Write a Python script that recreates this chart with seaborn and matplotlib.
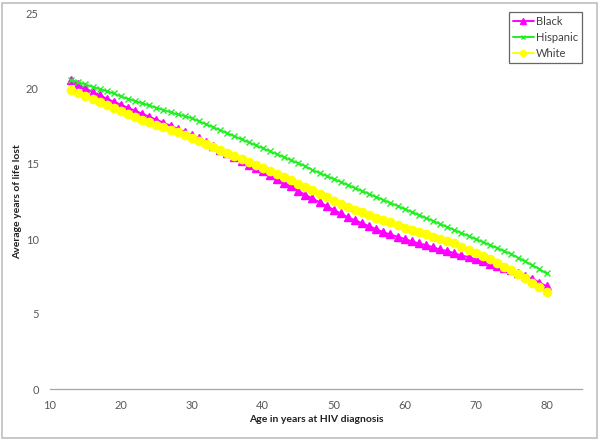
"""
Average years of life lost by age at HIV diagnosis, by race/ethnicity.
"""

import matplotlib
matplotlib.use('Agg')
import matplotlib.pyplot as plt
from matplotlib.patches import Rectangle
import seaborn as sns
import pandas as pd

ages = list(range(13, 81))

black = [20.6, 20.3, 20.05, 19.8, 19.6, 19.35, 19.15, 18.95, 18.75, 18.55,
         18.35, 18.15, 17.95, 17.75, 17.55, 17.35, 17.15, 16.9, 16.7, 16.45,
         16.2, 15.95, 15.7, 15.45, 15.2, 14.95, 14.7, 14.5, 14.25, 14.0,
         13.75, 13.5, 13.2, 12.95, 12.7, 12.45, 12.2, 11.95, 11.7, 11.45,
         11.25, 11.05, 10.85, 10.65, 10.45, 10.3, 10.15, 10.0, 9.85, 9.7,
         9.6, 9.45, 9.3, 9.2, 9.05, 8.9, 8.8, 8.65, 8.5, 8.35,
         8.2, 8.05, 7.9, 7.75, 7.55, 7.35, 7.1, 6.85]

hispanic = [20.6, 20.45, 20.3, 20.15, 20.0, 19.85, 19.7, 19.5, 19.35, 19.2,
            19.05, 18.9, 18.75, 18.6, 18.45, 18.3, 18.2, 18.05, 17.85, 17.65,
            17.45, 17.25, 17.05, 16.85, 16.65, 16.45, 16.25, 16.05, 15.85, 15.65,
            15.45, 15.25, 15.05, 14.85, 14.6, 14.4, 14.2, 14.0, 13.8, 13.6,
            13.4, 13.2, 13.0, 12.8, 12.6, 12.4, 12.2, 12.0, 11.8, 11.6,
            11.4, 11.2, 11.0, 10.8, 10.6, 10.4, 10.2, 10.0, 9.8, 9.6,
            9.4, 9.2, 9.0, 8.75, 8.5, 8.25, 8.0, 7.7]

white = [19.9, 19.7, 19.5, 19.3, 19.1, 18.9, 18.7, 18.55, 18.35, 18.15,
         17.95, 17.8, 17.6, 17.45, 17.25, 17.1, 16.9, 16.7, 16.5, 16.3,
         16.1, 15.95, 15.75, 15.55, 15.35, 15.15, 14.95, 14.75, 14.5, 14.3,
         14.1, 13.9, 13.65, 13.45, 13.25, 13.0, 12.8, 12.55, 12.35, 12.15,
         11.95, 11.8, 11.6, 11.4, 11.25, 11.1, 10.9, 10.75, 10.6, 10.45,
         10.3, 10.15, 10.0, 9.85, 9.7, 9.45, 9.25, 9.05, 8.85, 8.65,
         8.4, 8.15, 7.9, 7.65, 7.4, 7.1, 6.8, 6.5]

groups = ['Black', 'Hispanic', 'White']
colors = {'Black': '#FF00FF', 'Hispanic': '#22EE22', 'White': '#FFFF00'}
markers = {'Black': '^', 'Hispanic': 'x', 'White': 'o'}

x_ticks = [10, 20, 30, 40, 50, 60, 70, 80]
y_ticks = [0, 5, 10, 15, 20, 25]

# long-form table for seaborn
df = pd.concat([
    pd.DataFrame({'age': ages, 'yll': vals, 'group': name})
    for name, vals in zip(groups, [black, hispanic, white])
], ignore_index=True)

sns.set_style("white")
plt.rcParams['font.family'] = ['Lato', 'DejaVu Sans']

fig = plt.figure(figsize=(6, 4.4), dpi=100)
ax = fig.add_axes([50 / 600, 51 / 440, 532 / 600, 375 / 440])

# one call per group: seaborn won't mix filled and line-art markers
for name in groups:
    sub = df[df['group'] == name]
    c = colors[name]
    sns.lineplot(data=sub, x='age', y='yll', color=c, marker=markers[name],
                 linewidth=1.4, markersize=6 if name != 'Hispanic' else 5,
                 markeredgewidth=1.0, markeredgecolor=c, markerfacecolor=c,
                 label=name, ax=ax)

ax.set_xlim(10, 85)
ax.set_ylim(0, 25)
ax.set_xticks(x_ticks)
ax.set_yticks(y_ticks)
ax.tick_params(axis='both', colors='#B0B0B0', labelcolor='#595959',
               labelsize=8, length=3, width=0.8, direction='out')
ax.tick_params(axis='x', pad=5)
ax.tick_params(axis='y', pad=5)

for side in ['top', 'right', 'left']:
    ax.spines[side].set_visible(False)
ax.spines['bottom'].set_color('#A6A6A6')
ax.spines['bottom'].set_linewidth(0.9)

ax.set_xlabel('Age in years at HIV diagnosis', fontsize=7.5, fontweight='bold',
              color='#202020')
ax.set_ylabel('Average years of life lost', fontsize=7.5, fontweight='bold',
              color='#202020')
ax.xaxis.set_label_coords(0.5, -0.068)
ax.yaxis.set_label_coords(-0.052, 0.5)

leg = ax.legend(loc='upper right', bbox_to_anchor=(1.0, 1.006), fontsize=8,
                frameon=True, fancybox=False, borderpad=0.35,
                labelspacing=0.45, handlelength=1.9, handletextpad=0.2,
                borderaxespad=0.0, markerscale=0.7)
leg.get_frame().set_edgecolor('#404040')
leg.get_frame().set_linewidth(0.9)
for txt in leg.get_texts():
    txt.set_color('#404040')

# outer chart border
fig.patches.append(Rectangle((2 / 600, 2 / 440), 595 / 600, 435 / 440,
                             transform=fig.transFigure, fill=False,
                             edgecolor='#BFBFBF', linewidth=1.2))

plt.savefig('out.png', dpi=100)
plt.close()
